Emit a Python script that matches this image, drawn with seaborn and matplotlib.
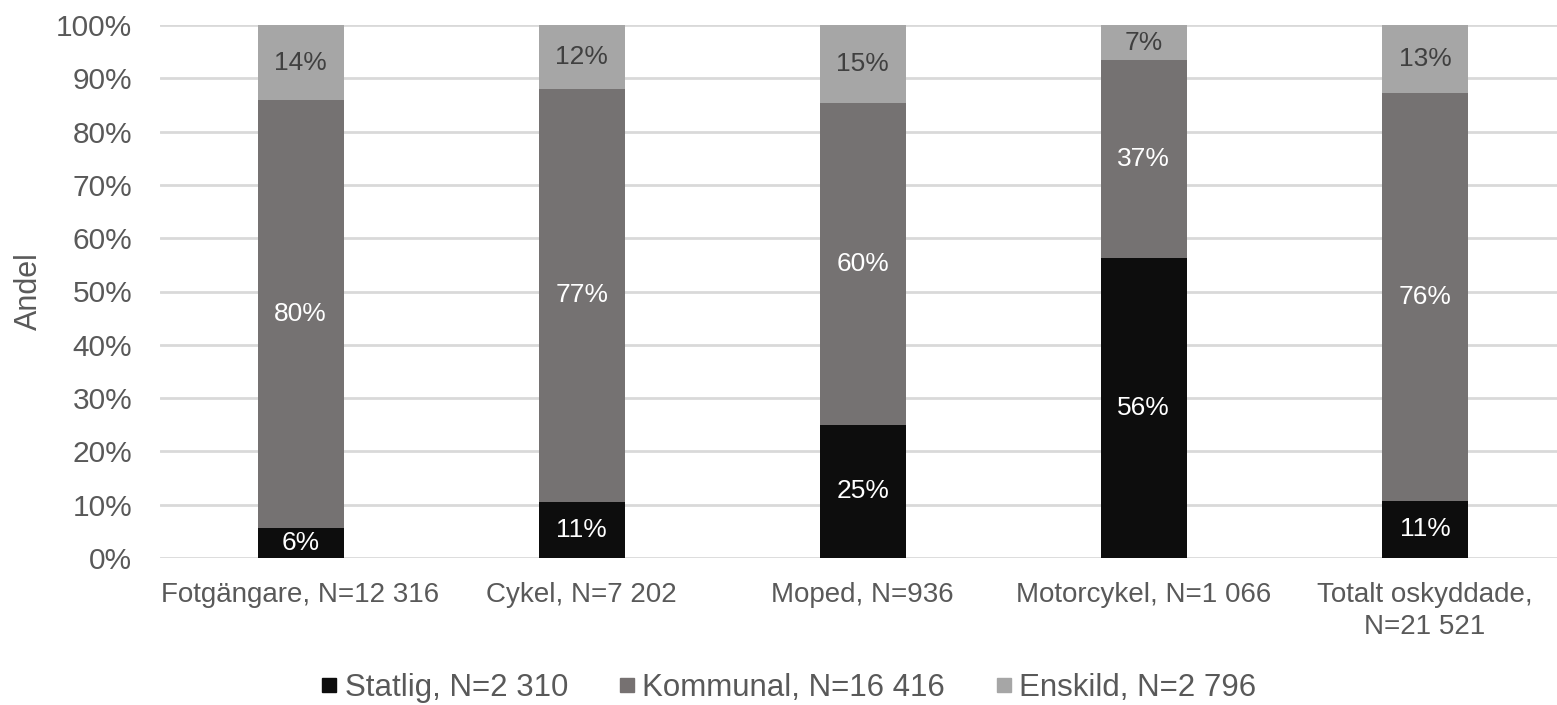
import matplotlib
matplotlib.use("Agg")
import matplotlib.pyplot as plt
import seaborn as sns
import numpy as np
from matplotlib.lines import Line2D

# --- Data (andel i procent) ---
categories = ["Fotgängare, N=12 316", "Cykel, N=7 202", "Moped, N=936",
              "Motorcykel, N=1 066", "Totalt oskyddade,\nN=21 521"]
statlig = [5.6, 10.6, 25.0, 56.2, 10.7]
kommunal = [80.3, 77.4, 60.4, 37.2, 76.5]
enskild = [14.1, 12.0, 14.6, 6.6, 12.8]
series_names = ["Statlig, N=2 310", "Kommunal, N=16 416", "Enskild, N=2 796"]
yticks = [0, 10, 20, 30, 40, 50, 60, 70, 80, 90, 100]

colors = ["#0d0d0d", "#767171", "#a6a6a6"]
label_colors = ["white", "white", "#404040"]

sns.set_style("white")
plt.rcParams['font.family'] = ['Liberation Sans', 'DejaVu Sans']

fig = plt.figure(figsize=(15.57, 7.05), dpi=100)
ax = fig.add_axes([160 / 1557, 1 - 558 / 705, 1 - 160 / 1557, (558 - 25) / 705])

bottom = np.zeros(len(categories))
for vals, col, lcol in zip([statlig, kommunal, enskild], colors, label_colors):
    sns.barplot(x=categories, y=vals, bottom=bottom, color=col, width=0.306,
                ax=ax, zorder=3, linewidth=0)
    cont = ax.containers[-1]
    ax.bar_label(cont, labels=[f"{v:.0f}%" for v in vals], label_type="center",
                 color=lcol, fontsize=19)
    bottom += np.array(vals)

ax.set_ylim(0, 100)
ax.set_xlim(-0.5, 4.47)
ax.set_yticks(yticks)
ax.set_yticklabels([f"{t}%" for t in yticks])
ax.yaxis.grid(True, color="#d9d9d9", linewidth=2, zorder=0)
ax.set_axisbelow(True)
for s in ax.spines.values():
    s.set_visible(False)
ax.tick_params(axis="both", length=0, colors="#595959")
ax.tick_params(axis="y", pad=20, labelsize=21.5)
ax.tick_params(axis="x", pad=17, labelsize=20)
for t in ax.get_xticklabels():
    t.set_linespacing(1.3)
ax.set_ylabel("Andel", fontsize=22, color="#595959")
ax.yaxis.set_label_coords(-0.083, 0.5)
ax.set_xlabel("")

handles = [Line2D([0], [0], marker="s", linestyle="", markersize=9.4,
                  markerfacecolor=c, markeredgecolor=c) for c in colors]
fig.legend(handles, series_names, loc="center", bbox_to_anchor=(789 / 1557, 1 - 688 / 705),
           ncol=3, frameon=False, fontsize=22.5, handletextpad=0.25,
           columnspacing=1.62, labelcolor="#595959", handlelength=0.5)

fig.savefig("out.png", dpi=100)
